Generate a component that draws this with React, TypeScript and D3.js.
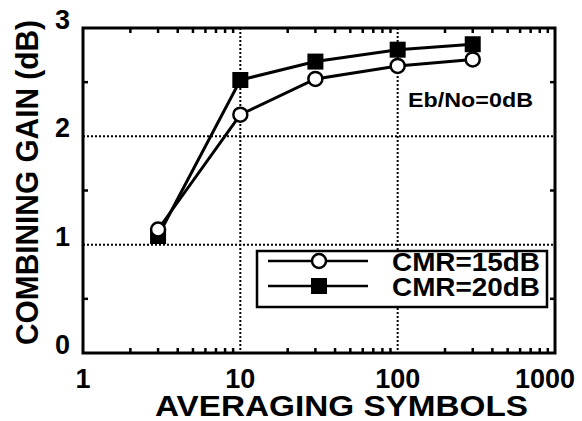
import { useEffect, useRef } from "react";
import * as d3 from "d3";

const symbols = [3, 10, 30, 100, 300];
const cmr15 = [1.14, 2.2, 2.53, 2.65, 2.71];
const cmr20 = [1.08, 2.52, 2.69, 2.8, 2.85];
const xTicks = [1, 10, 100, 1000];
const yTicks = [0, 1, 2, 3];
const yMinor = [0.5, 1.5, 2.5];

export default function App() {
  const svgRef = useRef<SVGSVGElement>(null);

  useEffect(() => {
    const W = 582;
    const H = 421;
    const margin = { top: 28, right: 27, bottom: 68, left: 83 };
    const width = W - margin.left - margin.right;
    const height = H - margin.top - margin.bottom;
    const font = "'Liberation Sans', Arial, sans-serif";

    const svg = d3.select(svgRef.current);
    svg.selectAll("*").remove();
    svg.attr("width", W).attr("height", H);

    svg.append("rect").attr("width", W).attr("height", H).attr("fill", "#fff");

    const g = svg
      .append("g")
      .attr("transform", `translate(${margin.left},${margin.top})`);

    const x = d3.scaleLog().domain([1, 1000]).range([0, width]);
    const y = d3.scaleLinear().domain([0, 3]).range([height, 0]);

    // dotted grid
    g.selectAll(".vgrid")
      .data([10, 100])
      .enter()
      .append("line")
      .attr("x1", (d) => x(d))
      .attr("x2", (d) => x(d))
      .attr("y1", 0)
      .attr("y2", height)
      .attr("stroke", "#000")
      .attr("stroke-width", 2)
      .attr("stroke-dasharray", "2,2");

    g.selectAll(".hgrid")
      .data([1, 2])
      .enter()
      .append("line")
      .attr("x1", 0)
      .attr("x2", width)
      .attr("y1", (d) => y(d))
      .attr("y2", (d) => y(d))
      .attr("stroke", "#000")
      .attr("stroke-width", 2)
      .attr("stroke-dasharray", "2,2");

    // minor ticks, pointing inward
    const xMinor: number[] = [];
    [1, 10, 100].forEach((dec) => {
      for (let k = 2; k <= 9; k++) xMinor.push(dec * k);
    });
    xMinor.forEach((v) => {
      g.append("line")
        .attr("x1", x(v))
        .attr("x2", x(v))
        .attr("y1", height)
        .attr("y2", height - 5)
        .attr("stroke", "#000")
        .attr("stroke-width", 2.5);
      g.append("line")
        .attr("x1", x(v))
        .attr("x2", x(v))
        .attr("y1", 0)
        .attr("y2", 5)
        .attr("stroke", "#000")
        .attr("stroke-width", 2.5);
    });
    yMinor.forEach((v) => {
      g.append("line")
        .attr("x1", 0)
        .attr("x2", 5)
        .attr("y1", y(v))
        .attr("y2", y(v))
        .attr("stroke", "#000")
        .attr("stroke-width", 2.5);
      g.append("line")
        .attr("x1", width)
        .attr("x2", width - 5)
        .attr("y1", y(v))
        .attr("y2", y(v))
        .attr("stroke", "#000")
        .attr("stroke-width", 2.5);
    });

    // frame
    g.append("rect")
      .attr("width", width)
      .attr("height", height)
      .attr("fill", "none")
      .attr("stroke", "#000")
      .attr("stroke-width", 3);

    // tick labels
    g.selectAll(".xlab")
      .data(xTicks)
      .enter()
      .append("text")
      .attr("x", (d) => x(d))
      .attr("dx", (d) => (d === 1000 ? -10 : 0))
      .attr("y", height + 35)
      .attr("text-anchor", "middle")
      .attr("font-family", font)
      .attr("font-weight", "bold")
      .attr("font-size", 27)
      .text((d) => String(d));

    g.selectAll(".ylab")
      .data(yTicks)
      .enter()
      .append("text")
      .attr("x", -13)
      .attr("y", (d) => y(d) + 1)
      .attr("text-anchor", "end")
      .attr("font-family", font)
      .attr("font-weight", "bold")
      .attr("font-size", 27)
      .text((d) => String(d));

    // axis titles
    svg
      .append("text")
      .attr("x", 155)
      .attr("y", 416)
      .attr("textLength", 373)
      .attr("lengthAdjust", "spacingAndGlyphs")
      .attr("font-family", font)
      .attr("font-weight", "bold")
      .attr("font-size", 29)
      .text("AVERAGING SYMBOLS");

    svg
      .append("text")
      .attr("transform", "translate(38,345) rotate(-90)")
      .attr("textLength", 325)
      .attr("lengthAdjust", "spacingAndGlyphs")
      .attr("font-family", font)
      .attr("font-weight", "bold")
      .attr("font-size", 31)
      .text("COMBINING GAIN (dB)");

    // series
    const line = d3
      .line<number>()
      .x((_, i) => x(symbols[i]))
      .y((d) => y(d));

    [cmr15, cmr20].forEach((s) => {
      g.append("path")
        .attr("d", line(s))
        .attr("fill", "none")
        .attr("stroke", "#000")
        .attr("stroke-width", 3);
    });

    g.selectAll(".sq")
      .data(cmr20)
      .enter()
      .append("rect")
      .attr("x", (_, i) => x(symbols[i]) - 8)
      .attr("y", (d) => y(d) - 8)
      .attr("width", 16)
      .attr("height", 16)
      .attr("fill", "#000");

    g.selectAll(".circ")
      .data(cmr15)
      .enter()
      .append("circle")
      .attr("cx", (_, i) => x(symbols[i]))
      .attr("cy", (d) => y(d))
      .attr("r", 7)
      .attr("fill", "#fff")
      .attr("stroke", "#000")
      .attr("stroke-width", 2.5);

    // annotation
    svg
      .append("text")
      .attr("x", 408)
      .attr("y", 107)
      .attr("textLength", 125)
      .attr("lengthAdjust", "spacingAndGlyphs")
      .attr("font-family", font)
      .attr("font-weight", "bold")
      .attr("font-size", 20)
      .text("Eb/No=0dB");

    // legend
    const leg = svg.append("g");
    leg
      .append("rect")
      .attr("x", 257)
      .attr("y", 251)
      .attr("width", 290)
      .attr("height", 56)
      .attr("fill", "#fff")
      .attr("stroke", "#000")
      .attr("stroke-width", 2.5);

    const rows = [
      { label: "CMR=15dB", y: 261, kind: "circle" },
      { label: "CMR=20dB", y: 286, kind: "square" },
    ];
    rows.forEach((r) => {
      leg
        .append("line")
        .attr("x1", 268)
        .attr("x2", 368)
        .attr("y1", r.y)
        .attr("y2", r.y)
        .attr("stroke", "#000")
        .attr("stroke-width", 2.5);
      if (r.kind === "circle") {
        leg
          .append("circle")
          .attr("cx", 319)
          .attr("cy", r.y)
          .attr("r", 7)
          .attr("fill", "#fff")
          .attr("stroke", "#000")
          .attr("stroke-width", 2.5);
      } else {
        leg
          .append("rect")
          .attr("x", 311)
          .attr("y", r.y - 8)
          .attr("width", 16)
          .attr("height", 16)
          .attr("fill", "#000");
      }
      leg
        .append("text")
        .attr("x", 392)
        .attr("y", r.y + 10)
        .attr("textLength", 148)
        .attr("lengthAdjust", "spacingAndGlyphs")
        .attr("font-family", font)
        .attr("font-weight", "bold")
        .attr("font-size", 26)
        .text(r.label);
    });
  }, []);

  return (
    <svg
      ref={svgRef}
      style={{ position: "absolute", left: 0, top: 0, display: "block" }}
    />
  );
}
